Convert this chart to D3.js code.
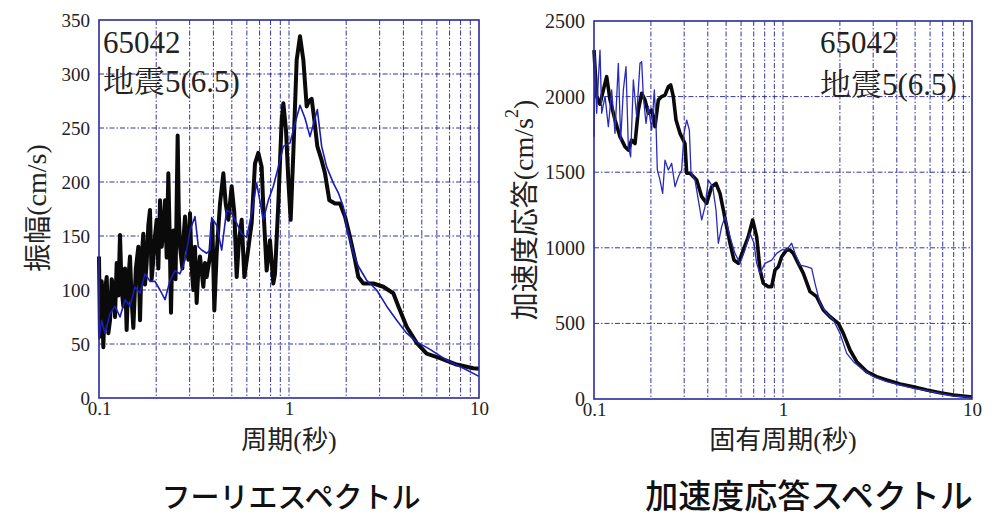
<!DOCTYPE html>
<html><head><meta charset="utf-8">
<script src="https://cdn.jsdelivr.net/npm/d3@7"></script>
<style>
body{margin:0;background:#fff;}
svg{display:block;}
</style></head>
<body>
<svg id="chart" width="999" height="520"></svg>
<script>
// ---------- DATA ----------
const fourierYTicks = [0, 50, 100, 150, 200, 250, 300, 350];
const responseYTicks = [0, 500, 1000, 1500, 2000, 2500];
const xTickLabels = [0.1, 1, 10];
const minorPeriods = [0.2,0.3,0.4,0.5,0.6,0.7,0.8,0.9,1,2,3,4,5,6,7,8,9];
const stationLabel = "65042";
const quakeLabel = ["地震", "5(6.5)"];

// Fourier spectrum: [period (s), amplitude (cm/s)]
const fourierBlack = [[0.1,131],[0.1006,95],[0.1012,57],[0.1033,108],[0.1054,47],[0.1076,100],[0.1098,112],[0.112,60],[0.1143,72],[0.1166,110],[0.119,103],[0.1214,75],[0.1239,125],[0.1264,95],[0.129,151],[0.1316,100],[0.1343,85],[0.137,120],[0.1398,63],[0.1427,110],[0.1456,131],[0.1486,90],[0.1516,65],[0.1563,120],[0.1611,140],[0.1644,72],[0.1677,130],[0.1711,152],[0.1746,105],[0.1782,125],[0.1818,160],[0.1855,174],[0.1893,110],[0.1932,128],[0.1971,150],[0.2012,165],[0.2053,120],[0.2095,183],[0.2138,140],[0.2181,155],[0.2226,183],[0.2271,130],[0.2317,208],[0.2355,150],[0.2393,79],[0.2427,130],[0.2462,155],[0.2528,110],[0.2594,243],[0.2631,170],[0.2669,140],[0.2746,120],[0.279,150],[0.2836,168],[0.2894,140],[0.2953,128],[0.3013,171],[0.3075,120],[0.3137,100],[0.3201,140],[0.3266,88],[0.3333,118],[0.3401,131],[0.3541,103],[0.3613,125],[0.3687,112],[0.3839,131],[0.395,162],[0.4046,81],[0.4162,134],[0.4334,180],[0.4513,208],[0.4642,180],[0.4794,165],[0.4992,196],[0.5157,171],[0.5304,112],[0.5456,146],[0.5636,165],[0.5821,112],[0.6061,134],[0.6361,162],[0.6622,217],[0.6895,227],[0.7179,214],[0.7326,177],[0.7628,118],[0.7943,146],[0.827,106],[0.8438,115],[0.8787,180],[0.915,257],[0.9338,273],[0.9643,248],[0.9918,202],[1.0205,165],[1.0539,227],[1.0974,313],[1.1425,335],[1.1898,313],[1.2388,270],[1.2743,275],[1.3161,277],[1.3539,260],[1.4098,233],[1.4856,220],[1.547,208],[1.6303,183],[1.7467,180],[1.8555,180],[1.971,168],[2.0948,149],[2.2257,128],[2.3172,112],[2.4617,106],[2.7797,106],[3.1368,103],[3.5406,97],[3.762,85],[4.1612,66],[4.6976,51],[5.3033,41],[6.2308,37],[7.6283,31],[9.338,27.5],[10,27]];
const fourierBlue = [[0.1,54],[0.1033,72],[0.1075,60],[0.1143,78],[0.1214,85],[0.129,75],[0.137,91],[0.1456,85],[0.1547,103],[0.1644,97],[0.1746,115],[0.1855,108],[0.1971,108],[0.2095,100],[0.2226,91],[0.2365,109],[0.2512,118],[0.2669,115],[0.2836,128],[0.3013,155],[0.3201,168],[0.3333,140],[0.347,137],[0.3687,134],[0.3839,137],[0.3918,167],[0.4162,160],[0.4422,137],[0.4698,174],[0.4992,171],[0.5304,162],[0.5636,152],[0.5987,149],[0.6361,171],[0.6758,199],[0.7326,165],[0.7783,183],[0.827,196],[0.8787,214],[0.9338,233],[1.0122,236],[1.0754,254],[1.1425,271],[1.2141,259],[1.2899,242],[1.3705,259],[1.4098,267],[1.4856,233],[1.5785,214],[1.7117,199],[1.8183,190],[1.932,177],[2.0115,159],[2.181,134],[2.3172,122],[2.5634,109],[2.8928,100],[3.2659,85],[3.6874,72],[4.1612,60],[4.6976,52],[5.5233,45],[6.758,35],[8.27,27.5],[10,20]];

// Acceleration response spectrum: [period (s), acceleration (cm/s²)]
const responseBlack = [[0.1,2308],[0.1033,2000],[0.1076,1950],[0.1121,2044],[0.1167,2132],[0.1215,1980],[0.1292,1845],[0.1373,1735],[0.1459,1669],[0.1519,1646],[0.1582,1712],[0.1648,1690],[0.1716,1911],[0.1788,2022],[0.1862,1977],[0.1939,1890],[0.2019,1911],[0.2102,1801],[0.219,1977],[0.228,2000],[0.2375,2010],[0.2474,2066],[0.2545,2077],[0.2629,2000],[0.2716,1845],[0.2851,1757],[0.3029,1690],[0.3092,1493],[0.3221,1493],[0.3493,1448],[0.3713,1338],[0.3946,1294],[0.4194,1404],[0.4421,1426],[0.4642,1360],[0.4834,1250],[0.5034,1140],[0.5243,1030],[0.5503,919],[0.5804,897],[0.6167,986],[0.6554,1074],[0.6911,1184],[0.7255,1074],[0.7556,853],[0.7869,765],[0.8362,743],[0.871,743],[0.9072,853],[0.9447,875],[0.9838,941],[1.0457,986],[1.0889,985],[1.1341,963],[1.2052,897],[1.2812,831],[1.3895,710],[1.5075,677],[1.6349,589],[1.7737,544],[1.9623,500],[2.0857,434],[2.2624,324],[2.4533,247],[2.7711,181],[3.1302,148],[3.5357,126],[4.1591,99],[4.893,81],[5.7557,60],[6.7705,42],[7.9652,26],[9.759,15],[10,14]];
const responseBlue = [[0.1,1735],[0.1012,2264],[0.1033,1890],[0.1054,2110],[0.1076,2308],[0.1098,1890],[0.1144,2000],[0.1191,1801],[0.124,2044],[0.1292,1757],[0.1345,2220],[0.1384,1712],[0.143,2044],[0.1477,2198],[0.1519,1669],[0.1563,1602],[0.1615,2110],[0.1682,1868],[0.1751,2220],[0.1788,2231],[0.1824,2000],[0.1884,1823],[0.1939,1934],[0.2019,1779],[0.2085,2044],[0.2128,1823],[0.2163,1515],[0.2235,1448],[0.2308,1360],[0.2375,1580],[0.2474,1515],[0.2576,1559],[0.2683,1404],[0.2795,1470],[0.291,1515],[0.2994,1757],[0.3092,1845],[0.3195,1779],[0.3261,1493],[0.3422,1448],[0.3565,1316],[0.3713,1184],[0.3867,1272],[0.4027,1448],[0.4246,1404],[0.4421,1250],[0.4548,1030],[0.4737,1140],[0.4933,1206],[0.5243,1074],[0.5572,963],[0.5922,897],[0.6293,986],[0.6689,1096],[0.7023,1030],[0.7255,897],[0.7556,831],[0.803,897],[0.871,919],[0.9259,963],[0.9838,986],[1.0457,986],[1.1114,1030],[1.1575,963],[1.23,886],[1.3343,875],[1.418,864],[1.4767,765],[1.57,633],[1.7021,567],[1.8465,522],[2.0027,434],[2.173,302],[2.3568,247],[2.6607,192],[3.0061,148],[3.5357,115],[4.1591,93],[4.893,71],[5.7557,55],[6.7705,37],[7.9652,20],[9.759,11],[10,10]];

// ---------- DRAW ----------
const svg = d3.select("#chart");
const SERIF = "Liberation Serif";
const SANS_CJK = "Noto Sans CJK JP";
const SERIF_CJK = "Noto Serif CJK JP";
const gridColor = "#3434a6";
const frameColor = "#2a2aa0";

function runs(t, parts) {
  parts.forEach(p => {
    const s = t.append("tspan").attr("font-family", p[1]).text(p[0]);
    if (p[2]) p[2](s);
  });
}

function panel(opt) {
  const x = d3.scaleLog().domain([0.1, 10]).range([opt.left, opt.right]);
  const y = d3.scaleLinear().domain([0, opt.ymax]).range([opt.bottom, opt.top]);
  const g = svg.append("g");

  g.append("g").selectAll("line").data(minorPeriods).join("line")
    .attr("x1", d => x(d)).attr("x2", d => x(d))
    .attr("y1", opt.top).attr("y2", opt.bottom)
    .attr("stroke", gridColor).attr("stroke-width", 1)
    .attr("stroke-dasharray", "5,2,1.5,2");
  g.append("g").selectAll("line").data(opt.yTicks.slice(1, -1)).join("line")
    .attr("x1", opt.left).attr("x2", opt.right)
    .attr("y1", d => y(d)).attr("y2", d => y(d))
    .attr("stroke", gridColor).attr("stroke-width", 1)
    .attr("stroke-dasharray", "5,2,1.5,2");

  const line = d3.line().x(d => x(d[0])).y(d => y(d[1]));
  g.append("path").datum(opt.black).attr("d", line)
    .attr("fill", "none").attr("stroke", "#0a0a0a")
    .attr("stroke-width", opt.blackWidth).attr("stroke-linejoin", "round");
  g.append("path").datum(opt.blue).attr("d", line)
    .attr("fill", "none").attr("stroke", opt.blueColor)
    .attr("stroke-width", opt.blueWidth).attr("stroke-linejoin", "round");

  g.append("rect").attr("x", opt.left).attr("y", opt.top)
    .attr("width", opt.right - opt.left).attr("height", opt.bottom - opt.top)
    .attr("fill", "none").attr("stroke", frameColor).attr("stroke-width", 1.6);

  const ya = g.append("g").attr("transform", `translate(${opt.left},0)`)
    .call(d3.axisLeft(y).tickValues(opt.yTicks).tickSize(0).tickPadding(9).tickFormat(d3.format("d")));
  ya.select(".domain").remove();
  ya.attr("font-family", SERIF).attr("font-size", opt.tickSize);
  ya.selectAll("text").attr("fill", "#222");

  const xa = g.append("g").attr("transform", `translate(0,${opt.bottom})`)
    .call(d3.axisBottom(x).tickValues(xTickLabels).tickSize(0).tickPadding(4).tickFormat(d => String(d)));
  xa.select(".domain").remove();
  xa.attr("font-family", SERIF).attr("font-size", 19);
  xa.selectAll("text").attr("fill", "#222");

  const yt = g.append("text")
    .attr("transform", `translate(${opt.ytX},${opt.ytY}) rotate(-90)`)
    .attr("text-anchor", "middle").attr("dominant-baseline", "central")
    .attr("font-size", 28).attr("fill", "#222");
  runs(yt, opt.yTitle);

  const xt = g.append("text").attr("x", (opt.left + opt.right) / 2).attr("y", 449)
    .attr("text-anchor", "middle").attr("font-size", 26).attr("fill", "#222");
  runs(xt, opt.xTitle);

  g.append("text").attr("x", opt.annX).attr("y", opt.annY1).attr("font-family", SERIF)
    .attr("font-size", opt.annSize).attr("fill", "#222").text(stationLabel);
  const q = g.append("text").attr("x", opt.annX).attr("y", opt.annY2)
    .attr("font-size", opt.annSize).attr("fill", "#222");
  runs(q, [[quakeLabel[0], SERIF_CJK], [quakeLabel[1], SERIF]]);

  g.append("text").attr("x", opt.capX).attr("y", 508)
    .attr("text-anchor", "middle").attr("font-family", SANS_CJK).attr("font-weight", 500)
    .attr("font-size", opt.capSize).attr("fill", "#111").text(opt.caption);
}

panel({
  left: 99, right: 479, top: 20, bottom: 398, ymax: 350,
  yTicks: fourierYTicks, tickSize: 19,
  black: fourierBlack, blue: fourierBlue,
  blackWidth: 4, blueWidth: 1.6, blueColor: "#1c1cb4",
  ytX: 36, ytY: 208,
  yTitle: [["振幅", SANS_CJK], ["(cm/s)", SERIF]],
  xTitle: [["周期", SANS_CJK], ["(", SERIF], ["秒", SANS_CJK], [")", SERIF]],
  annX: 103, annY1: 53, annY2: 92, annSize: 31,
  capX: 291, capSize: 29, caption: "フーリエスペクトル"
});

panel({
  left: 594, right: 972, top: 21, bottom: 399, ymax: 2500,
  yTicks: responseYTicks, tickSize: 20,
  black: responseBlack, blue: responseBlue,
  blackWidth: 3.6, blueWidth: 1.3, blueColor: "#2a2ab8",
  ytX: 523, ytY: 210,
  yTitle: [["加速度応答", SANS_CJK], ["(cm/s", SERIF],
           ["2", SERIF, s => s.attr("dy", -11).attr("font-size", 18)],
           [")", SERIF, s => s.attr("dy", 11)]],
  xTitle: [["固有周期", SANS_CJK], ["(", SERIF], ["秒", SANS_CJK], [")", SERIF]],
  annX: 820, annY1: 53, annY2: 95, annSize: 31,
  capX: 809, capSize: 33, caption: "加速度応答スペクトル"
});
</script>
</body></html>
